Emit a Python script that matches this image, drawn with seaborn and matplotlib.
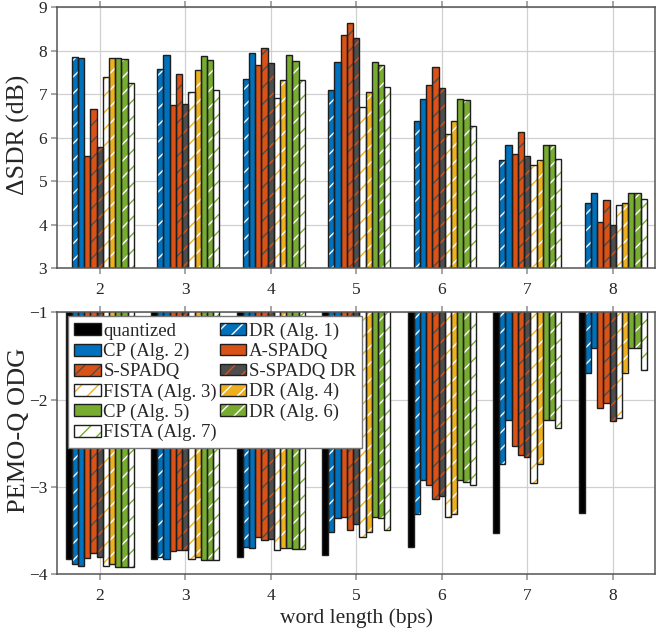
import pandas as pd
import matplotlib
matplotlib.use("Agg")
import matplotlib.pyplot as plt
import seaborn as sns
from matplotlib.patches import Patch

sns.set_theme(style="whitegrid")
plt.rcParams['font.family'] = ['Liberation Serif', 'DejaVu Serif']
plt.rcParams['hatch.linewidth'] = 1.0

bps = ["2", "3", "4", "5", "6", "7", "8"]
methods = ["quantized", "DR (Alg. 1)", "CP (Alg. 2)", "A-SPADQ", "S-SPADQ",
           "S-SPADQ DR", "FISTA (Alg. 3)", "DR (Alg. 4)", "CP (Alg. 5)",
           "DR (Alg. 6)", "FISTA (Alg. 7)"]

# delta SDR in dB, one row per method
delta_sdr = [
    [0, 0, 0, 0, 0, 0, 0],
    [7.85, 7.57, 7.34, 7.09, 6.38, 5.49, 4.51],
    [7.84, 7.90, 7.95, 7.74, 6.88, 5.83, 4.74],
    [5.59, 6.75, 7.66, 8.36, 7.21, 5.62, 4.07],
    [6.66, 7.47, 8.07, 8.63, 7.63, 6.12, 4.56],
    [5.79, 6.78, 7.71, 8.28, 7.15, 5.59, 3.99],
    [7.40, 7.04, 6.91, 6.70, 6.09, 5.37, 4.46],
    [7.84, 7.55, 7.32, 7.06, 6.38, 5.49, 4.50],
    [7.82, 7.87, 7.90, 7.74, 6.88, 5.83, 4.74],
    [7.80, 7.78, 7.76, 7.68, 6.86, 5.83, 4.74],
    [7.25, 7.10, 7.32, 7.16, 6.27, 5.52, 4.59],
]

# PEMO-Q ODG, one row per method
odg = [
    [-3.83, -3.83, -3.81, -3.78, -3.69, -3.53, -3.30],
    [-3.88, -3.81, -3.69, -3.52, -3.31, -2.74, -1.70],
    [-3.91, -3.83, -3.70, -3.36, -2.92, -2.24, -1.41],
    [-3.82, -3.74, -3.58, -3.35, -2.98, -2.53, -2.10],
    [-3.76, -3.73, -3.61, -3.49, -3.14, -2.63, -2.04],
    [-3.80, -3.73, -3.60, -3.43, -3.11, -2.66, -2.25],
    [-3.91, -3.83, -3.72, -3.57, -3.35, -2.96, -2.21],
    [-3.88, -3.81, -3.70, -3.52, -3.31, -2.74, -1.70],
    [-3.92, -3.84, -3.70, -3.35, -2.92, -2.23, -1.41],
    [-3.92, -3.84, -3.71, -3.36, -2.94, -2.23, -1.41],
    [-3.92, -3.84, -3.71, -3.49, -2.98, -2.33, -1.66],
]

BLUE = "#0072BD"
ORANGE = "#D95319"
YELLOW = "#EDB120"
GREEN = "#77AC30"
GRAY = "#4D4D4D"

face_colors = ["black", BLUE, BLUE, ORANGE, ORANGE, GRAY, "white", YELLOW, GREEN, GREEN, "white"]
hatch_colors = ["black", "white", BLUE, ORANGE, GRAY, ORANGE, YELLOW, "white", GREEN, "white", GREEN]
hatches = ["", "//", "", "", "//", "//", "//", "//", "", "//", "//"]
EDGE = "#1e1e1e"

rows = []
for m, s_row, o_row in zip(methods, delta_sdr, odg):
    for b, s, o in zip(bps, s_row, o_row):
        rows.append({"bps": b, "method": m, "sdr": s, "odg": o})
df = pd.DataFrame(rows)


def draw_bars(ax, col):
    sns.barplot(data=df, x="bps", y=col, hue="method", order=bps, hue_order=methods,
                palette=face_colors, saturation=1, errorbar=None, width=0.8,
                linewidth=0, legend=False, ax=ax)
    for cont, h, hc in zip(ax.containers, hatches, hatch_colors):
        for p in cont:
            p.set_hatch(h)
            p.set_edgecolor(hc)
            p.set_linewidth(0)
    # outlines on top
    sns.barplot(data=df, x="bps", y=col, hue="method", order=bps, hue_order=methods,
                palette=[EDGE] * len(methods), fill=False, errorbar=None, width=0.8,
                linewidth=1.0, legend=False, ax=ax)


def style_axis(ax):
    ax.set_axisbelow(True)
    ax.grid(True, color="#d0d0d0", linewidth=0.9)
    for s in ax.spines.values():
        s.set_color("#555555")
        s.set_linewidth(1.1)
    ax.tick_params(axis="x", bottom=True, top=True, direction="out", length=4,
                   color="#9a9a9a", labelsize=12.5, pad=6)
    ax.tick_params(axis="y", left=True, direction="out", length=4,
                   color="#9a9a9a", labelsize=12.5, pad=3)
    ax.set_xlim(-0.5, 6.5)


fig = plt.figure(figsize=(6.72, 6.34), dpi=100)
ax1 = fig.add_axes([0.0848, 0.5768, 0.8906, 0.4121])
ax2 = fig.add_axes([0.0848, 0.0946, 0.8906, 0.4128])

draw_bars(ax1, "sdr")
style_axis(ax1)
ax1.set_ylim(3, 9)
ax1.set_yticks([3, 4, 5, 6, 7, 8, 9])
ax1.set_xlabel("")
ax1.set_ylabel("ΔSDR (dB)", fontsize=18.5)
ax1.yaxis.set_label_coords(-0.045, 0.51)

draw_bars(ax2, "odg")
style_axis(ax2)
ax2.set_ylim(-4, -1)
ax2.set_yticks([-4, -3, -2, -1])
ax2.set_xlabel("word length (bps)", fontsize=15.5, labelpad=3)
ax2.set_ylabel("PEMO-Q ODG", fontsize=19)
ax2.yaxis.set_label_coords(-0.045, 0.55)

handles = []
for fc, hc, h in zip(face_colors, hatch_colors, hatches):
    fill = Patch(facecolor=fc, edgecolor=hc, hatch=h, linewidth=0)
    frame = Patch(facecolor="none", edgecolor=EDGE, linewidth=1.0)
    handles.append((fill, frame))
order = [0, 2, 4, 6, 8, 10, 1, 3, 5, 7, 9]
leg = ax2.legend([handles[i] for i in order], [methods[i] for i in order], ncol=2,
                 loc="upper left", bbox_to_anchor=(0.018, 0.985), fontsize=13.5,
                 frameon=True, fancybox=False, framealpha=1, edgecolor="#777777",
                 handlelength=1.4, handleheight=0.6, handletextpad=0.15,
                 columnspacing=0.15, labelspacing=0.16, borderpad=0.35,
                 borderaxespad=0)
leg.get_frame().set_linewidth(1.0)

fig.savefig("out.png", dpi=100)
